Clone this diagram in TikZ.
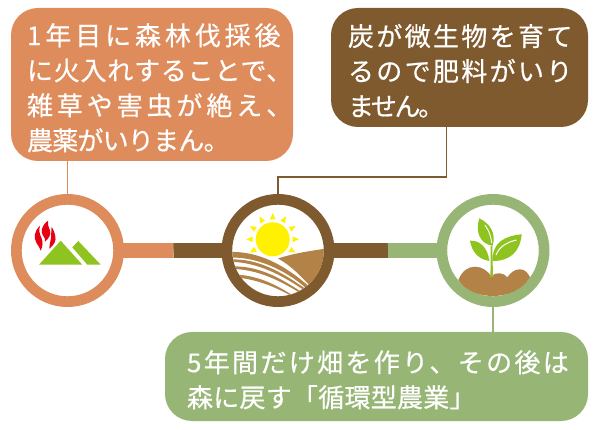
\documentclass[tikz,border=0pt]{standalone}
\usepackage{fontspec}
\setmainfont[FakeBold=0.5]{Noto Sans CJK JP}
\definecolor{burnorange}{HTML}{DF8C5C}
\definecolor{soilbrown}{HTML}{7F5A2F}
\definecolor{cyclegreen}{HTML}{97B675}
\definecolor{hilltan}{HTML}{B28247}
\definecolor{leafgreen}{HTML}{8FC31F}
\definecolor{flamered}{HTML}{E60012}
\definecolor{sunyellow}{HTML}{FFF100}
\newcommand{\trk}[1]{\addfontfeature{LetterSpace=#1}}
\hfuzz=30pt
\tikzset{
  notebox/.style={rounded corners=27pt, text=white, align=left, inner ysep=0pt, outer sep=0pt,
    font=\fontsize{26}{35}\selectfont, execute at begin node={\rule{0pt}{28.5pt}}},
  ringnode/.style={circle, fill=white, line width=10.7pt, minimum size=102.3pt, inner sep=0pt, outer sep=0pt},
  barlink/.style={line width=14.7pt},
  thinlink/.style={line width=1.2pt}
}
\begin{document}
\begin{tikzpicture}[x=1pt,y=-1pt]
  \useasboundingbox (0,0) rectangle (600,430);

  \node[notebox, fill=burnorange, inner xsep=16pt, text width=250pt, minimum height=153pt] (burnnote) at (152,84.5)
    {\trk{15}1年目に森林伐採後\\\trk{3}に火入れすることで、\\\trk{15}雑草や害虫が絶え、\\\trk{-3}農薬がいりまん。};
  \node[notebox, fill=soilbrown, inner xsep=17pt, text width=223pt, minimum height=119pt] (soilnote) at (459.5,67.5)
    {\trk{9}炭が微生物を育て\\\trk{9}るので肥料がいり\\\trk{-9}ません。};
  \node[notebox, fill=cyclegreen, inner xsep=22pt, text width=379pt, minimum height=89pt] (cyclenote) at (376.5,376.5)
    {\trk{9}5年間だけ畑を作り、その後は\\\trk{1}森に戻す「循環型農業」};

  \node[ringnode, draw=burnorange] (burnring) at (67.5,250.5) {};
  \node[ringnode, draw=soilbrown] (sunring) at (278,250.5) {};
  \node[ringnode, draw=cyclegreen] (sproutring) at (493,250.5) {};

  \coordinate (barleft) at (173.5,250.6);
  \coordinate (barright) at (388,250.6);
  \coordinate (soilfoot) at (446.5,127);
  \coordinate (soilbend) at (446.5,177);

  \draw[barlink, burnorange] (burnring) -- (barleft);
  \draw[barlink, soilbrown] (barleft) -- (sunring);
  \draw[barlink, soilbrown] (sunring) -- (barright);
  \draw[barlink, cyclegreen] (barright) -- (sproutring);

  \draw[thinlink, burnorange] (burnring.north) -- (burnring.north |- burnnote.south);
  \draw[thinlink, soilbrown] (sunring.north) |- (soilbend) -- (soilfoot);
  \draw[thinlink, cyclegreen] (sproutring.south) -- (sproutring.south |- cyclenote.north);

  \fill[leafgreen] (39,264.7) -- (60.7,240.7) -- (82.3,264.7) -- cycle;
  \fill[leafgreen] (78.3,241) -- (100.7,264.7) -- (87.3,264.7) -- (72.3,247.3) -- cycle;
  \fill[flamered] (40,226) .. controls (34,231) and (33.5,238) .. (36.5,243) .. controls (38.5,246) and (40,248) .. (40.7,250.7)
    .. controls (43,246) and (43,242) .. (41.5,238) .. controls (39.5,234) and (38.5,230) .. (40,226) -- cycle;
  \fill[flamered] (48,220.7) .. controls (41,226) and (40.5,232) .. (43,235.5) .. controls (45,238) and (45.5,239.5) .. (45,241.7)
    .. controls (49,238.5) and (51.5,234) .. (49.8,230) .. controls (48.5,227) and (47.5,224) .. (48,220.7) -- cycle;
  \fill[flamered] (51.7,226.7) .. controls (51,231) and (51.5,234) .. (51,238) .. controls (50.7,241) and (49.5,244) .. (49.3,248.7)
    .. controls (54,245) and (56.5,241) .. (55.3,236) .. controls (54.5,232) and (53,229) .. (51.7,226.7) -- cycle;

  \fill[sunyellow] (272.7,239.3) circle (17);
  \foreach \ang in {-30,0,...,210} {
    \fill[sunyellow, shift={(272.7,239.3)}, rotate=\ang] (20,-2.8) -- (26.5,0) -- (20,2.8) -- cycle;
  }
  \begin{scope}
    \clip (278,250.5) circle (45.8);
    \fill[hilltan] (278,258.5) .. controls (295,253) and (310,251) .. (330,248) -- (330,310) -- (311,287)
      .. controls (300,275) and (290,265) .. (278,258.5) -- cycle;
    \fill[hilltan] (230,252) .. controls (258,251) and (285,265) .. (309,286.5) -- (306,288)
      .. controls (285,270) and (258,257) .. (230,257.5) -- cycle;
    \fill[hilltan] (230,259.5) .. controls (258,258) and (283,273) .. (305,288.5) -- (303,289.5)
      .. controls (283,276) and (258,262) .. (230,261.8) -- cycle;
    \fill[hilltan] (230,266.5) .. controls (258,265) and (280,278) .. (300,291) -- (298.5,292)
      .. controls (280,281) and (258,269) .. (230,268.8) -- cycle;
    \fill[hilltan] (230,274.5) .. controls (255,274) and (275,284) .. (292,295) -- (290.5,295.5)
      .. controls (275,287) and (255,278) .. (230,277) -- cycle;
  \end{scope}

  \fill[hilltan] (458.3,280) .. controls (462,271) and (468,266.7) .. (475,266.7) .. controls (482,266.7) and (488,271) .. (491.7,276.7)
    .. controls (494,273.5) and (497,273) .. (500,273.3) .. controls (503,273.5) and (505.5,275) .. (507.3,277.3)
    .. controls (511,272) and (515,269.3) .. (520,269.3) .. controls (525,269.3) and (528,273) .. (530,277.3)
    .. controls (522,290) and (508,296) .. (493,296) .. controls (478,296) and (465,290) .. (458.3,280) -- cycle;
  \fill[leafgreen] (490.2,277) .. controls (490.8,268) and (490.6,256) .. (490.5,246) -- (492.3,246)
    .. controls (492.5,256) and (492.8,268) .. (493,277) -- cycle;
  \fill[leafgreen] (479.3,218.3) .. controls (475,232) and (480,244) .. (492.7,245.7)
    .. controls (496,234) and (491,224) .. (479.3,218.3) -- cycle;
  \fill[leafgreen] (470,240.7) .. controls (480,240) and (488,248) .. (489.3,261)
    .. controls (478,259) and (472,252) .. (470,240.7) -- cycle;
  \fill[leafgreen] (521.7,234.3) .. controls (505,236) and (492,242) .. (492.7,261)
    .. controls (510,261) and (520,252) .. (521.7,234.3) -- cycle;
  \draw[white, line width=0.9pt] (485,225) .. controls (489,231) and (491,236) .. (491.7,243);
  \draw[white, line width=1pt] (516.5,240) .. controls (507,242) and (499,247) .. (496,255);
\end{tikzpicture}
\end{document}
